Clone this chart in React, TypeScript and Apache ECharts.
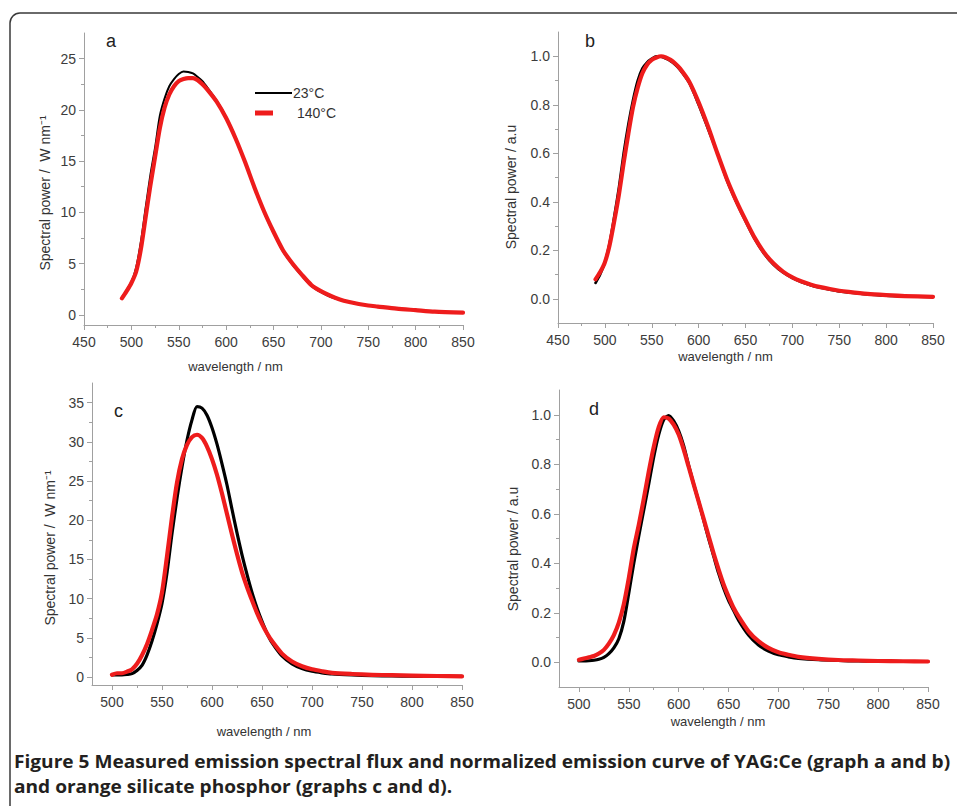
import React, { useEffect, useRef } from 'react';
import * as echarts from 'echarts';

// ---------- data ----------
// Panels a & b : YAG:Ce
const A_WL = [490, 495, 500, 505, 510, 515, 520, 525, 530, 535, 540, 545, 550, 555, 560, 565, 570, 575, 580,
  590, 600, 610, 620, 630, 640, 650, 660, 670, 680, 690, 700, 710, 720, 730, 740, 750, 760,
  780, 800, 820, 850];
const A_23C = [1.7, 2.4, 3.2, 4.6, 7.1, 10.4, 13.6, 16.3, 19.4, 21.1, 22.3, 23.0, 23.5, 23.75, 23.7, 23.55, 23.2, 22.8, 22.2,
  20.9, 19.3, 17.3, 14.9, 12.3, 10.0, 8.0, 6.2, 4.9, 3.8, 2.8, 2.2, 1.75, 1.45, 1.25, 1.05, 0.9, 0.8,
  0.6, 0.45, 0.32, 0.2];
const A_140C = [1.6, 2.3, 3.1, 4.2, 6.4, 9.5, 12.6, 15.4, 18.2, 20.2, 21.5, 22.3, 22.8, 23.0, 23.1, 23.1, 22.9, 22.5, 22.0,
  20.8, 19.2, 17.2, 14.9, 12.4, 10.1, 8.1, 6.3, 5.0, 3.9, 2.9, 2.3, 1.85, 1.5, 1.25, 1.05, 0.9, 0.8,
  0.6, 0.45, 0.3, 0.2];
const B_23C = [0.065, 0.1, 0.15, 0.23, 0.34, 0.46, 0.6, 0.72, 0.82, 0.9, 0.95, 0.975, 0.99, 1.0, 0.998, 0.99, 0.98, 0.965, 0.945,
  0.89, 0.8, 0.7, 0.6, 0.49, 0.4, 0.32, 0.245, 0.185, 0.14, 0.108, 0.085, 0.068, 0.055, 0.045, 0.037, 0.03, 0.026,
  0.018, 0.013, 0.01, 0.007];
const B_140C = [0.08, 0.11, 0.15, 0.22, 0.32, 0.43, 0.56, 0.68, 0.79, 0.87, 0.93, 0.965, 0.985, 0.995, 1.0, 0.995, 0.985, 0.97, 0.95,
  0.895, 0.81, 0.71, 0.6, 0.495, 0.405, 0.325, 0.25, 0.19, 0.145, 0.112, 0.088, 0.071, 0.058, 0.048, 0.04, 0.033, 0.028,
  0.02, 0.015, 0.011, 0.008];

// Panels c & d : orange silicate phosphor
const C_WL = [500, 505, 510, 515, 520, 525, 530, 535, 540, 545, 550, 555, 560, 565, 570, 575, 580, 585, 590, 595,
  600, 605, 610, 615, 620, 625, 630, 635, 640, 645, 650, 655, 660,
  670, 680, 690, 700, 710, 720, 740, 760, 780, 800, 825, 850];
const C_23C = [0.3, 0.3, 0.3, 0.35, 0.45, 0.85, 1.5, 2.8, 4.6, 6.8, 9.4, 13.3, 18.3, 22.8, 26.8, 30.2, 32.8, 34.5, 34.3, 33.4,
  31.8, 29.7, 27.2, 24.5, 21.4, 18.4, 15.6, 13.1, 10.8, 8.8, 7.1, 5.6, 4.4,
  2.7, 1.7, 1.1, 0.75, 0.55, 0.4, 0.28, 0.2, 0.15, 0.12, 0.1, 0.1];
const C_140C = [0.3, 0.5, 0.5, 0.7, 1.0, 1.7, 2.8, 4.2, 6.0, 8.0, 10.8, 15.4, 20.4, 24.8, 27.8, 29.6, 30.6, 30.9, 30.5, 29.4,
  27.8, 25.8, 23.4, 20.8, 18.2, 15.7, 13.4, 11.5, 9.8, 8.2, 6.8, 5.6, 4.6,
  3.0, 2.0, 1.4, 1.0, 0.75, 0.55, 0.4, 0.3, 0.25, 0.2, 0.15, 0.1];
const D_23C = [0.005, 0.005, 0.006, 0.008, 0.012, 0.02, 0.035, 0.058, 0.095, 0.165, 0.28, 0.4, 0.51, 0.615, 0.72, 0.83, 0.92, 0.98, 0.997, 0.975,
  0.935, 0.875, 0.795, 0.72, 0.65, 0.575, 0.5, 0.43, 0.36, 0.3, 0.25, 0.21, 0.17,
  0.11, 0.07, 0.045, 0.03, 0.022, 0.016, 0.01, 0.007, 0.005, 0.004, 0.003, 0.003];
const D_140C = [0.01, 0.015, 0.02, 0.025, 0.035, 0.05, 0.075, 0.11, 0.16, 0.235, 0.34, 0.46, 0.555, 0.66, 0.77, 0.87, 0.95, 0.99, 0.985, 0.96,
  0.92, 0.86, 0.79, 0.72, 0.65, 0.58, 0.51, 0.44, 0.375, 0.315, 0.265, 0.22, 0.185,
  0.125, 0.085, 0.058, 0.04, 0.03, 0.022, 0.014, 0.009, 0.007, 0.005, 0.004, 0.003];

// tick labels
const X_TICKS_AB = [450, 500, 550, 600, 650, 700, 750, 800, 850];
const X_MINOR_AB = [475, 525, 575, 625, 675, 725, 775, 825];
const X_TICKS_CD = [500, 550, 600, 650, 700, 750, 800, 850];
const X_MINOR_CD = [525, 575, 625, 675, 725, 775, 825];
const Y_TICKS_A = [0, 5, 10, 15, 20, 25];
const Y_MINOR_A = [2.5, 7.5, 12.5, 17.5, 22.5];
const Y_TICKS_C = [0, 5, 10, 15, 20, 25, 30, 35];
const Y_MINOR_C = [2.5, 7.5, 12.5, 17.5, 22.5, 27.5, 32.5];
const Y_TICKS_N = [0, 0.2, 0.4, 0.6, 0.8, 1.0];
const Y_MINOR_N = [0.1, 0.3, 0.5, 0.7, 0.9];

const LEGEND = ['23°C', '140°C'];
const PANEL_LETTERS = ['a', 'b', 'c', 'd'];
const X_NAME = 'wavelength / nm';
const Y_NAME_ABS = 'Spectral power /  W nm⁻¹';
const Y_NAME_NORM = 'Spectral power / a.u';
const CAPTION_1 = 'Figure 5 Measured emission spectral flux and normalized emission curve of YAG:Ce (graph a and b)';
const CAPTION_2 = 'and orange silicate phosphor (graphs c and d).';

// ---------- styles ----------
const FONT = '"Liberation Sans", Arial, sans-serif';
const AXIS_COLOR = '#a0a0a0';
const LABEL_COLOR = '#3c3c3c';
const BLACK = '#000000';
const RED = '#ee1c1c';

const pairs = (wl: number[], v: number[]) => wl.map((w, i) => [w, v[i]]);

export default function App() {
  const ref = useRef<HTMLDivElement>(null);

  useEffect(() => {
    if (!ref.current) return;
    const chart = echarts.init(ref.current, null, { renderer: 'svg', width: 957, height: 806 });

    const panels = [
      { grid: { left: 84, top: 33, width: 379, height: 292 }, xMin: 450, xMax: 850, xMajor: X_TICKS_AB, xMinor: X_MINOR_AB,
        yMin: -1, yMax: 27.5, yMajor: Y_TICKS_A, yMinor: Y_MINOR_A, dec: 0, wl: A_WL, black: A_23C, red: A_140C, bw: 2 },
      { grid: { left: 558, top: 32, width: 375, height: 291 }, xMin: 450, xMax: 850, xMajor: X_TICKS_AB, xMinor: X_MINOR_AB,
        yMin: -0.1, yMax: 1.1, yMajor: Y_TICKS_N, yMinor: Y_MINOR_N, dec: 1, wl: A_WL, black: B_23C, red: B_140C, bw: 2.6 },
      { grid: { left: 92, top: 383, width: 370, height: 302 }, xMin: 480, xMax: 850, xMajor: X_TICKS_CD, xMinor: X_MINOR_CD,
        yMin: -1, yMax: 37.5, yMajor: Y_TICKS_C, yMinor: Y_MINOR_C, dec: 0, wl: C_WL, black: C_23C, red: C_140C, bw: 3.2 },
      { grid: { left: 559, top: 390, width: 369, height: 297 }, xMin: 480, xMax: 850, xMajor: X_TICKS_CD, xMinor: X_MINOR_CD,
        yMin: -0.1, yMax: 1.1, yMajor: Y_TICKS_N, yMinor: Y_MINOR_N, dec: 1, wl: C_WL, black: D_23C, red: D_140C, bw: 3.2 },
    ];

    const grids: any[] = [];
    const xAxes: any[] = [];
    const yAxes: any[] = [];
    const series: any[] = [];

    panels.forEach((p, i) => {
      grids.push({ ...p.grid, containLabel: false });
      const tickStyle = { color: AXIS_COLOR, width: 1 };
      xAxes.push({
        type: 'value', gridIndex: i, min: p.xMin, max: p.xMax, position: 'bottom',
        axisLine: { show: true, onZero: false, lineStyle: tickStyle },
        axisTick: { show: true, customValues: p.xMajor, length: 5, lineStyle: tickStyle },
        axisLabel: { customValues: p.xMajor, margin: 10, fontSize: 14, color: LABEL_COLOR, fontFamily: FONT },
        splitLine: { show: false },
      });
      xAxes.push({
        type: 'value', gridIndex: i, min: p.xMin, max: p.xMax, position: 'bottom',
        axisLine: { show: false, onZero: false },
        axisTick: { show: true, customValues: p.xMinor, length: 3, lineStyle: tickStyle },
        axisLabel: { show: false },
        splitLine: { show: false },
      });
      const fmt = (v: number) => v.toFixed(p.dec);
      yAxes.push({
        type: 'value', gridIndex: i, min: p.yMin, max: p.yMax, position: 'left',
        axisLine: { show: true, onZero: false, lineStyle: tickStyle },
        axisTick: { show: true, customValues: p.yMajor, length: 5, lineStyle: tickStyle },
        axisLabel: { customValues: p.yMajor, formatter: fmt, margin: 8, fontSize: 14, color: LABEL_COLOR, fontFamily: FONT },
        splitLine: { show: false },
      });
      yAxes.push({
        type: 'value', gridIndex: i, min: p.yMin, max: p.yMax, position: 'left',
        axisLine: { show: false, onZero: false },
        axisTick: { show: true, customValues: p.yMinor, length: 3, lineStyle: tickStyle },
        axisLabel: { show: false },
        splitLine: { show: false },
      });
      series.push({
        type: 'line', name: LEGEND[0], xAxisIndex: 2 * i, yAxisIndex: 2 * i,
        data: pairs(p.wl, p.black), showSymbol: false, symbol: 'none', smooth: 0.25,
        lineStyle: { color: BLACK, width: p.bw, join: 'round', cap: 'round' }, z: 2,
      });
      series.push({
        type: 'line', name: LEGEND[1], xAxisIndex: 2 * i, yAxisIndex: 2 * i,
        data: pairs(p.wl, p.red), showSymbol: false, symbol: 'none', smooth: 0.25,
        lineStyle: { color: RED, width: 4.2, join: 'round', cap: 'round' }, z: 3,
      });
    });

    // caption scaling (condensed look)
    const ctx = document.createElement('canvas').getContext('2d')!;
    ctx.font = 'bold 18px "Open Sans"';
    const w1 = ctx.measureText(CAPTION_1).width || 1000;
    const capScale = 937 / w1;

    const txt = (x: number, y: number, text: string, extra: any = {}, style: any = {}) => ({
      type: 'text', x, y, ...extra,
      style: { text, fontFamily: FONT, fontSize: 13, fill: '#333', align: 'center', verticalAlign: 'middle', ...style },
    });

    const graphic: any[] = [
      { type: 'rect', shape: { x: 10, y: 13, width: 1000, height: 850, r: 10 },
        style: { fill: 'none', stroke: '#3a3a3a', lineWidth: 1.5 }, z: 0 },
      // panel letters
      txt(106, 40.5, PANEL_LETTERS[0], {}, { fontSize: 18, align: 'left', fill: '#222' }),
      txt(585, 40.5, PANEL_LETTERS[1], {}, { fontSize: 18, align: 'left', fill: '#222' }),
      txt(114, 410.5, PANEL_LETTERS[2], {}, { fontSize: 18, align: 'left', fill: '#222' }),
      txt(589, 408.5, PANEL_LETTERS[3], {}, { fontSize: 18, align: 'left', fill: '#222' }),
      // y names
      txt(45, 193, Y_NAME_ABS, { rotation: Math.PI / 2 }, { fontSize: 14 }),
      txt(511, 187, Y_NAME_NORM, { rotation: Math.PI / 2 }, { fontSize: 14 }),
      txt(50, 548, Y_NAME_ABS, { rotation: Math.PI / 2 }, { fontSize: 14 }),
      txt(513, 549, Y_NAME_NORM, { rotation: Math.PI / 2 }, { fontSize: 14 }),
      // x names
      txt(235.5, 366, X_NAME),
      txt(725.5, 356, X_NAME),
      txt(264, 731, X_NAME),
      txt(718, 721, X_NAME),
      // legend
      { type: 'line', shape: { x1: 255, y1: 93, x2: 292, y2: 93 }, style: { stroke: BLACK, lineWidth: 2 } },
      { type: 'line', shape: { x1: 255, y1: 113, x2: 273, y2: 113 }, style: { stroke: RED, lineWidth: 5 } },
      txt(293, 93, LEGEND[0], {}, { fontSize: 14, align: 'left' }),
      txt(297, 113, LEGEND[1], {}, { fontSize: 14, align: 'left' }),
      // caption
      { type: 'text', x: 14, y: 761, scaleX: capScale,
        style: { text: CAPTION_1, fontFamily: '"Open Sans", sans-serif', fontWeight: 'bold', fontSize: 18,
          fill: '#231f20', align: 'left', verticalAlign: 'middle' } },
      { type: 'text', x: 14, y: 786, scaleX: capScale,
        style: { text: CAPTION_2, fontFamily: '"Open Sans", sans-serif', fontWeight: 'bold', fontSize: 18,
          fill: '#231f20', align: 'left', verticalAlign: 'middle' } },
    ];

    chart.setOption({
      animation: false,
      backgroundColor: '#ffffff',
      grid: grids,
      xAxis: xAxes,
      yAxis: yAxes,
      series,
      graphic,
    });

    return () => chart.dispose();
  }, []);

  return (
    <div
      ref={ref}
      style={{ position: 'absolute', left: 0, top: 0, width: 957, height: 806, background: '#fff' }}
    />
  );
}
